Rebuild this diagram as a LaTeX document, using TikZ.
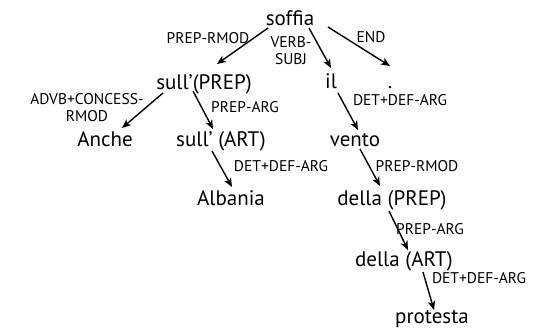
\documentclass[tikz,border=0pt]{standalone}
\usepackage{fontspec}
\setmainfont{PT Sans}
\usetikzlibrary{arrows.meta}
\tikzset{
  word/.style={anchor=base, inner sep=0pt, font=\fontsize{21}{23}\selectfont},
  lbl/.style={inner sep=0pt, align=center, font=\fontsize{15.5}{17}\selectfont},
  dep/.style={-{Stealth[length=9pt,width=7.5pt,inset=2.5pt]}, line width=1.4pt}
}

\begin{document}
\begin{tikzpicture}[x=1pt, y=-1pt]
  \useasboundingbox (0,0) rectangle (538,333);
  % words
  \node[word] (soffia)    at (290,25)  {soffia};
  \node[word] (sullprep)  at (204,89)  {sull'(PREP)};
  \node[word] (il)        at (331,88)  {il};
  \node[word] (punto)     at (390,88)  {.};
  \node[word] (anche)     at (105,146) {Anche};
  \node[word] (sullart)   at (221,146) {sull' (ART)};
  \node[word] (vento)     at (355,146) {vento};
  \node[word] (albania)   at (231,205) {Albania};
  \node[word] (dellaprep) at (392,205) {della (PREP)};
  \node[word] (dellaart)  at (404,266) {della (ART)};
  \node[word] (protesta)  at (432,323) {protesta};
  % labels
  \node[lbl] (l1)  at (208,38)  {PREP-RMOD};
  \node[lbl] (l2)  at (291,51)  {VERB-\\SUBJ};
  \node[lbl] (l3)  at (371,37)  {END};
  \node[lbl] (l4)  at (87,108)  {ADVB+CONCESS-\\RMOD};
  \node[lbl] (l5)  at (245,107) {PREP-ARG};
  \node[lbl] (l6)  at (281,166) {DET+DEF-ARG};
  \node[lbl] (l7)  at (400,100) {DET+DEF-ARG};
  \node[lbl] (l8)  at (417,166) {PREP-RMOD};
  \node[lbl] (l9)  at (430,229) {PREP-ARG};
  \node[lbl] (l10) at (479,278) {DET+DEF-ARG};
  % arcs
  \draw[dep] ([shift={(-22,3)}]soffia.base)   -- ([shift={(13,-25)}]sullprep.base);
  \draw[dep] ([shift={(19,3)}]soffia.base)    -- ([shift={(0,-20)}]il.base);
  \draw[dep] ([shift={(38,2)}]soffia.base)    -- ([shift={(0,-22)}]punto.base);
  \draw[dep] ([shift={(-41,4)}]sullprep.base) -- ([shift={(17,-18)}]anche.base);
  \draw[dep] ([shift={(-11,2)}]sullprep.base) -- ([shift={(-8,-17)}]sullart.base);
  \draw[dep] ([shift={(-9,5)}]sullart.base)   -- ([shift={(1,-18)}]albania.base);
  \draw[dep] ([shift={(7,5)}]il.base)         -- ([shift={(3,-16)}]vento.base);
  \draw[dep] ([shift={(5,3)}]vento.base)      -- ([shift={(-12,-19)}]dellaprep.base);
  \draw[dep] ([shift={(-3,6)}]dellaprep.base) -- ([shift={(4,-16)}]dellaart.base);
  \draw[dep] ([shift={(19,6)}]dellaart.base)  -- ([shift={(2,-13)}]protesta.base);
\end{tikzpicture}
\end{document}
